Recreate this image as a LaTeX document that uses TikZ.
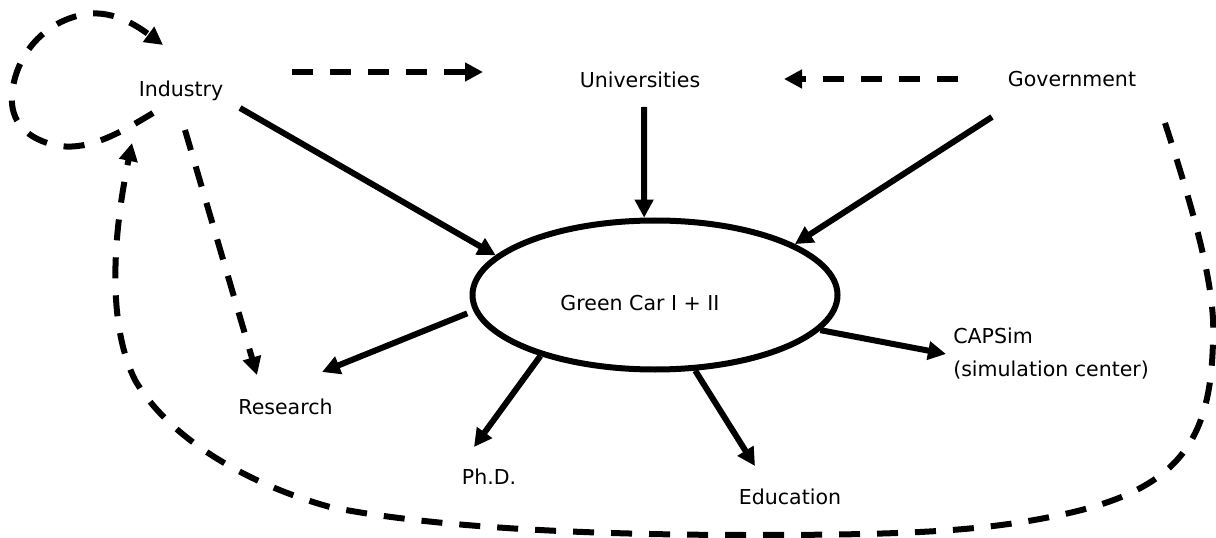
\documentclass[tikz,border=0pt]{standalone}
\usepackage{fontspec}
\setmainfont{DejaVu Sans}
\usetikzlibrary{arrows.meta,shapes.geometric}
\begin{document}
\begin{tikzpicture}[x=0.75pt,y=-0.75pt,
  lbl/.style={font=\fontsize{15.4}{18}\selectfont, inner sep=0pt, anchor=base},
  sol/.style={line width=4.5pt, -{Triangle[length=13.5pt,width=13.5pt]}},
  dsh/.style={sol, dash pattern=on 15.75pt off 12.75pt}]
\useasboundingbox (0,0) rectangle (1216,538);
% text nodes
\node[lbl] (ind) at (181,96.7) {Industry};
\node[lbl] (uni) at (640,88) {Universities};
\node[lbl] (gov) at (1072,86.5) {Government};
\node[draw, ellipse, line width=4.5pt, minimum width=273.75pt, minimum height=111.75pt, inner sep=0pt] (gc) at (655,295) {};
\node[lbl] (gct) at (640,310) {Green Car I + II};
\node[lbl] (res) at (285.5,414) {Research};
\node[lbl] (phd) at (489,484) {Ph.D.};
\node[lbl] (edu) at (790,504) {Education};
\node[lbl, anchor=base west] (cap) at (953,343) {CAPSim};
\node[lbl, anchor=base west] (capsub) at (953,376) {(simulation center)};
% connector ends
\coordinate (i1) at (240,108);
\coordinate (u1) at (644,107);
\coordinate (g1) at (992,117);
\coordinate (r1) at (322,372);
\coordinate (p1) at (474,447);
\coordinate (e1) at (755,466);
\coordinate (c1) at (946,354);
\coordinate (i2) at (292,72);
\coordinate (u2) at (483,72);
\coordinate (g2) at (958,79);
\coordinate (u3) at (784,79);
\coordinate (i3) at (185,130);
\coordinate (r2) at (257,375);
\coordinate (i4) at (153,113);
\coordinate (i5) at (163,45);
\coordinate (g3) at (1165,123);
\coordinate (i6) at (132,143);
% solid arrows
\draw[sol] (i1) -- (gc.166.9);
\draw[sol] (u1) -- (gc.98.5);
\draw[sol] (g1) -- (gc.20.6);
\draw[sol, shorten <=5pt] (gc.185.9) -- (r1);
\draw[sol] (gc.208.8) -- (p1);
\draw[sol] (gc.298.3) -- (e1);
\draw[sol] (gc.348.8) -- (c1);
% dashed arrows
\draw[dsh] (i2) -- (u2);
\draw[dsh] (g2) -- (u3);
\draw[dsh] (i3) -- (r2);
\draw[dsh] (i4) .. controls (120,133) and (90,150) .. (60,146)
  .. controls (25,140) and (10,120) .. (12,95)
  .. controls (15,55) and (45,20) .. (87,14)
  .. controls (115,10) and (140,28) .. (i5);
\draw[dsh] (g3) .. controls (1195,215) and (1216,290) .. (1213,340)
  .. controls (1211,440) and (1180,490) .. (1060,515)
  .. controls (980,532) and (900,535) .. (750,535)
  .. controls (560,535) and (420,525) .. (330,507)
  .. controls (250,485) and (170,440) .. (135,380)
  .. controls (110,330) and (110,250) .. (i6);
\end{tikzpicture}
\end{document}
